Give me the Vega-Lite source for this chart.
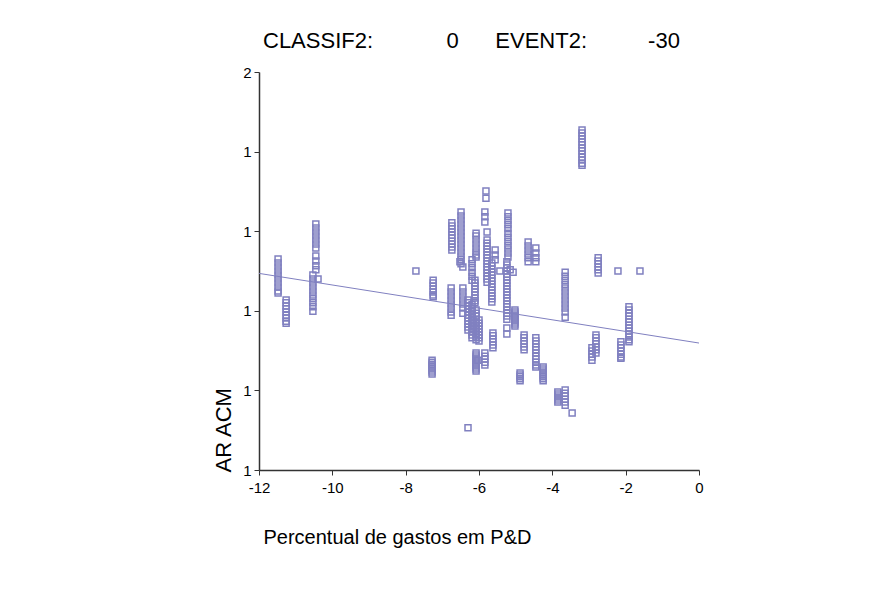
{
  "$schema": "https://vega.github.io/schema/vega-lite/v6.json",
  "width": 440,
  "height": 398,
  "autosize": {"type": "none"},
  "padding": {"left": 259, "top": 72, "right": 182, "bottom": 125},
  "background": "white",
  "title": {
    "text": "CLASSIF2:\u00a0\u00a0\u00a0\u00a0\u00a0\u00a0\u00a0\u00a0\u00a0\u00a0\u00a0\u00a00\u00a0\u00a0\u00a0\u00a0\u00a0\u00a0EVENT2:\u00a0\u00a0\u00a0\u00a0\u00a0\u00a0\u00a0\u00a0\u00a0\u00a0-30",
    "anchor": "start",
    "frame": "group",
    "dx": 4,
    "dy": 27,
    "offset": 22,
    "baseline": "alphabetic",
    "font": "Liberation Sans",
    "fontSize": 22,
    "fontWeight": "normal",
    "color": "#000000"
  },
  "config": {
    "view": {"stroke": null},
    "axis": {
      "grid": false,
      "domainColor": "#333333",
      "domainWidth": 1.5,
      "tickColor": "#333333",
      "tickWidth": 1,
      "tickSize": 5,
      "labelFont": "Liberation Sans",
      "labelFontSize": 15,
      "labelColor": "#000000",
      "labelFlush": false,
      "titleFont": "Liberation Sans",
      "titleFontSize": 20,
      "titleFontWeight": "normal",
      "titleColor": "#000000"
    }
  },
  "layer": [
    {
      "data": {
        "values": [
          {"pd": -11.48, "ar": 1.530}, {"pd": -11.48, "ar": 1.520}, {"pd": -11.48, "ar": 1.510}, {"pd": -11.48, "ar": 1.500}, {"pd": -11.48, "ar": 1.490}, {"pd": -11.48, "ar": 1.480}, {"pd": -11.48, "ar": 1.470}, {"pd": -11.48, "ar": 1.460}, {"pd": -11.48, "ar": 1.450}, {"pd": -11.48, "ar": 1.445},
          {"pd": -11.26, "ar": 1.427}, {"pd": -11.26, "ar": 1.420}, {"pd": -11.26, "ar": 1.412}, {"pd": -11.26, "ar": 1.405}, {"pd": -11.26, "ar": 1.397}, {"pd": -11.26, "ar": 1.389}, {"pd": -11.26, "ar": 1.382}, {"pd": -11.26, "ar": 1.374}, {"pd": -11.26, "ar": 1.369},
          {"pd": -10.45, "ar": 1.618}, {"pd": -10.45, "ar": 1.608}, {"pd": -10.45, "ar": 1.598}, {"pd": -10.45, "ar": 1.588}, {"pd": -10.45, "ar": 1.578}, {"pd": -10.45, "ar": 1.568}, {"pd": -10.45, "ar": 1.558}, {"pd": -10.45, "ar": 1.538}, {"pd": -10.45, "ar": 1.525}, {"pd": -10.45, "ar": 1.513}, {"pd": -10.45, "ar": 1.503},
          {"pd": -10.53, "ar": 1.490}, {"pd": -10.53, "ar": 1.480}, {"pd": -10.53, "ar": 1.470}, {"pd": -10.53, "ar": 1.460}, {"pd": -10.53, "ar": 1.450}, {"pd": -10.53, "ar": 1.440}, {"pd": -10.53, "ar": 1.430}, {"pd": -10.53, "ar": 1.420}, {"pd": -10.53, "ar": 1.410}, {"pd": -10.53, "ar": 1.399},
          {"pd": -10.39, "ar": 1.480},
          {"pd": -7.72, "ar": 1.500},
          {"pd": -7.25, "ar": 1.477}, {"pd": -7.25, "ar": 1.470}, {"pd": -7.25, "ar": 1.462}, {"pd": -7.25, "ar": 1.455}, {"pd": -7.25, "ar": 1.447}, {"pd": -7.25, "ar": 1.440}, {"pd": -7.25, "ar": 1.435},
          {"pd": -7.28, "ar": 1.276}, {"pd": -7.28, "ar": 1.271}, {"pd": -7.28, "ar": 1.266}, {"pd": -7.28, "ar": 1.261}, {"pd": -7.28, "ar": 1.256}, {"pd": -7.28, "ar": 1.251}, {"pd": -7.28, "ar": 1.246}, {"pd": -7.28, "ar": 1.241},
          {"pd": -6.74, "ar": 1.621}, {"pd": -6.74, "ar": 1.613}, {"pd": -6.74, "ar": 1.606}, {"pd": -6.74, "ar": 1.598}, {"pd": -6.74, "ar": 1.590}, {"pd": -6.74, "ar": 1.583}, {"pd": -6.74, "ar": 1.575}, {"pd": -6.74, "ar": 1.568}, {"pd": -6.74, "ar": 1.560}, {"pd": -6.74, "ar": 1.553},
          {"pd": -6.76, "ar": 1.457}, {"pd": -6.76, "ar": 1.447}, {"pd": -6.76, "ar": 1.437}, {"pd": -6.76, "ar": 1.427}, {"pd": -6.76, "ar": 1.417}, {"pd": -6.76, "ar": 1.407}, {"pd": -6.76, "ar": 1.397}, {"pd": -6.76, "ar": 1.389},
          {"pd": -6.49, "ar": 1.648}, {"pd": -6.49, "ar": 1.638}, {"pd": -6.49, "ar": 1.628}, {"pd": -6.49, "ar": 1.618}, {"pd": -6.49, "ar": 1.608}, {"pd": -6.49, "ar": 1.598}, {"pd": -6.49, "ar": 1.588}, {"pd": -6.49, "ar": 1.578}, {"pd": -6.49, "ar": 1.568}, {"pd": -6.49, "ar": 1.558}, {"pd": -6.49, "ar": 1.548}, {"pd": -6.49, "ar": 1.538}, {"pd": -6.49, "ar": 1.528}, {"pd": -6.49, "ar": 1.518},
          {"pd": -6.44, "ar": 1.510}, {"pd": -6.44, "ar": 1.457}, {"pd": -6.44, "ar": 1.447}, {"pd": -6.44, "ar": 1.437}, {"pd": -6.44, "ar": 1.427}, {"pd": -6.44, "ar": 1.417}, {"pd": -6.44, "ar": 1.407}, {"pd": -6.44, "ar": 1.394},
          {"pd": -6.52, "ar": 1.523},
          {"pd": -6.30, "ar": 1.106}, {"pd": -6.30, "ar": 1.427}, {"pd": -6.30, "ar": 1.420}, {"pd": -6.30, "ar": 1.412}, {"pd": -6.30, "ar": 1.405}, {"pd": -6.30, "ar": 1.397}, {"pd": -6.30, "ar": 1.389}, {"pd": -6.30, "ar": 1.382}, {"pd": -6.30, "ar": 1.374}, {"pd": -6.30, "ar": 1.367}, {"pd": -6.30, "ar": 1.359}, {"pd": -6.30, "ar": 1.352},
          {"pd": -6.19, "ar": 1.528}, {"pd": -6.19, "ar": 1.518}, {"pd": -6.19, "ar": 1.508}, {"pd": -6.19, "ar": 1.497}, {"pd": -6.19, "ar": 1.487}, {"pd": -6.19, "ar": 1.477}, {"pd": -6.19, "ar": 1.415}, {"pd": -6.19, "ar": 1.407}, {"pd": -6.19, "ar": 1.399}, {"pd": -6.19, "ar": 1.392}, {"pd": -6.19, "ar": 1.384}, {"pd": -6.19, "ar": 1.377}, {"pd": -6.19, "ar": 1.369}, {"pd": -6.19, "ar": 1.362}, {"pd": -6.19, "ar": 1.354}, {"pd": -6.19, "ar": 1.347}, {"pd": -6.19, "ar": 1.339}, {"pd": -6.19, "ar": 1.332},
          {"pd": -6.08, "ar": 1.595}, {"pd": -6.08, "ar": 1.588}, {"pd": -6.08, "ar": 1.578}, {"pd": -6.08, "ar": 1.568}, {"pd": -6.08, "ar": 1.558}, {"pd": -6.08, "ar": 1.548}, {"pd": -6.08, "ar": 1.540}, {"pd": -6.08, "ar": 1.535},
          {"pd": -6.08, "ar": 1.402}, {"pd": -6.08, "ar": 1.394}, {"pd": -6.08, "ar": 1.387}, {"pd": -6.08, "ar": 1.379}, {"pd": -6.08, "ar": 1.372}, {"pd": -6.08, "ar": 1.364}, {"pd": -6.08, "ar": 1.357}, {"pd": -6.08, "ar": 1.349}, {"pd": -6.08, "ar": 1.342}, {"pd": -6.08, "ar": 1.334}, {"pd": -6.08, "ar": 1.327},
          {"pd": -6.08, "ar": 1.294}, {"pd": -6.08, "ar": 1.289}, {"pd": -6.08, "ar": 1.284}, {"pd": -6.08, "ar": 1.279}, {"pd": -6.08, "ar": 1.274}, {"pd": -6.08, "ar": 1.269}, {"pd": -6.08, "ar": 1.264}, {"pd": -6.08, "ar": 1.259}, {"pd": -6.08, "ar": 1.254}, {"pd": -6.08, "ar": 1.249},
          {"pd": -6.11, "ar": 1.477}, {"pd": -6.11, "ar": 1.470}, {"pd": -6.11, "ar": 1.462}, {"pd": -6.11, "ar": 1.455}, {"pd": -6.11, "ar": 1.447}, {"pd": -6.11, "ar": 1.440}, {"pd": -6.11, "ar": 1.432}, {"pd": -6.11, "ar": 1.425}, {"pd": -6.11, "ar": 1.420},
          {"pd": -6.00, "ar": 1.377}, {"pd": -6.00, "ar": 1.369}, {"pd": -6.00, "ar": 1.362}, {"pd": -6.00, "ar": 1.354}, {"pd": -6.00, "ar": 1.347}, {"pd": -6.00, "ar": 1.339}, {"pd": -6.00, "ar": 1.332}, {"pd": -6.00, "ar": 1.324},
          {"pd": -6.03, "ar": 1.276},
          {"pd": -5.81, "ar": 1.701}, {"pd": -5.81, "ar": 1.683},
          {"pd": -5.84, "ar": 1.648}, {"pd": -5.84, "ar": 1.636}, {"pd": -5.84, "ar": 1.623}, {"pd": -5.84, "ar": 1.294}, {"pd": -5.84, "ar": 1.286}, {"pd": -5.84, "ar": 1.279}, {"pd": -5.84, "ar": 1.271}, {"pd": -5.84, "ar": 1.264},
          {"pd": -5.78, "ar": 1.598}, {"pd": -5.78, "ar": 1.578}, {"pd": -5.78, "ar": 1.570}, {"pd": -5.78, "ar": 1.563}, {"pd": -5.78, "ar": 1.555}, {"pd": -5.78, "ar": 1.548}, {"pd": -5.78, "ar": 1.540}, {"pd": -5.78, "ar": 1.533}, {"pd": -5.78, "ar": 1.525}, {"pd": -5.78, "ar": 1.518}, {"pd": -5.78, "ar": 1.510}, {"pd": -5.78, "ar": 1.503}, {"pd": -5.78, "ar": 1.495}, {"pd": -5.78, "ar": 1.487}, {"pd": -5.78, "ar": 1.480}, {"pd": -5.78, "ar": 1.472},
          {"pd": -5.65, "ar": 1.520}, {"pd": -5.65, "ar": 1.513}, {"pd": -5.65, "ar": 1.505}, {"pd": -5.65, "ar": 1.497}, {"pd": -5.65, "ar": 1.490}, {"pd": -5.65, "ar": 1.482}, {"pd": -5.65, "ar": 1.475}, {"pd": -5.65, "ar": 1.467}, {"pd": -5.65, "ar": 1.460}, {"pd": -5.65, "ar": 1.452}, {"pd": -5.65, "ar": 1.445}, {"pd": -5.65, "ar": 1.437}, {"pd": -5.65, "ar": 1.430}, {"pd": -5.65, "ar": 1.422},
          {"pd": -5.56, "ar": 1.553}, {"pd": -5.56, "ar": 1.540}, {"pd": -5.56, "ar": 1.528},
          {"pd": -5.62, "ar": 1.344}, {"pd": -5.62, "ar": 1.337}, {"pd": -5.62, "ar": 1.329}, {"pd": -5.62, "ar": 1.322}, {"pd": -5.62, "ar": 1.314}, {"pd": -5.62, "ar": 1.307},
          {"pd": -5.43, "ar": 1.500},
          {"pd": -5.21, "ar": 1.646}, {"pd": -5.21, "ar": 1.636}, {"pd": -5.21, "ar": 1.626}, {"pd": -5.21, "ar": 1.616}, {"pd": -5.21, "ar": 1.606}, {"pd": -5.21, "ar": 1.595}, {"pd": -5.21, "ar": 1.585}, {"pd": -5.21, "ar": 1.575}, {"pd": -5.21, "ar": 1.565}, {"pd": -5.21, "ar": 1.555}, {"pd": -5.21, "ar": 1.545}, {"pd": -5.21, "ar": 1.535},
          {"pd": -5.24, "ar": 1.523}, {"pd": -5.24, "ar": 1.515}, {"pd": -5.24, "ar": 1.508}, {"pd": -5.24, "ar": 1.500}, {"pd": -5.24, "ar": 1.492}, {"pd": -5.24, "ar": 1.485}, {"pd": -5.24, "ar": 1.477}, {"pd": -5.24, "ar": 1.470}, {"pd": -5.24, "ar": 1.462}, {"pd": -5.24, "ar": 1.455}, {"pd": -5.24, "ar": 1.447}, {"pd": -5.24, "ar": 1.440}, {"pd": -5.24, "ar": 1.432}, {"pd": -5.24, "ar": 1.425}, {"pd": -5.24, "ar": 1.417}, {"pd": -5.24, "ar": 1.410}, {"pd": -5.24, "ar": 1.402}, {"pd": -5.24, "ar": 1.394}, {"pd": -5.24, "ar": 1.387}, {"pd": -5.24, "ar": 1.379}, {"pd": -5.24, "ar": 1.357}, {"pd": -5.24, "ar": 1.342},
          {"pd": -5.15, "ar": 1.503}, {"pd": -5.07, "ar": 1.497},
          {"pd": -5.02, "ar": 1.402}, {"pd": -5.02, "ar": 1.397}, {"pd": -5.02, "ar": 1.392}, {"pd": -5.02, "ar": 1.387}, {"pd": -5.02, "ar": 1.382}, {"pd": -5.02, "ar": 1.377}, {"pd": -5.02, "ar": 1.372}, {"pd": -5.02, "ar": 1.367}, {"pd": -5.02, "ar": 1.362},
          {"pd": -4.66, "ar": 1.573}, {"pd": -4.66, "ar": 1.563}, {"pd": -4.66, "ar": 1.553}, {"pd": -4.66, "ar": 1.543}, {"pd": -4.66, "ar": 1.533}, {"pd": -4.66, "ar": 1.523},
          {"pd": -4.45, "ar": 1.558}, {"pd": -4.45, "ar": 1.545}, {"pd": -4.45, "ar": 1.533}, {"pd": -4.45, "ar": 1.523},
          {"pd": -4.45, "ar": 1.332}, {"pd": -4.45, "ar": 1.324}, {"pd": -4.45, "ar": 1.317}, {"pd": -4.45, "ar": 1.309}, {"pd": -4.45, "ar": 1.302}, {"pd": -4.45, "ar": 1.294}, {"pd": -4.45, "ar": 1.286}, {"pd": -4.45, "ar": 1.279}, {"pd": -4.45, "ar": 1.271}, {"pd": -4.45, "ar": 1.264}, {"pd": -4.45, "ar": 1.259},
          {"pd": -4.77, "ar": 1.339}, {"pd": -4.77, "ar": 1.332}, {"pd": -4.77, "ar": 1.324}, {"pd": -4.77, "ar": 1.317}, {"pd": -4.77, "ar": 1.309}, {"pd": -4.77, "ar": 1.302},
          {"pd": -4.25, "ar": 1.259}, {"pd": -4.25, "ar": 1.254}, {"pd": -4.25, "ar": 1.249}, {"pd": -4.25, "ar": 1.244}, {"pd": -4.25, "ar": 1.239}, {"pd": -4.25, "ar": 1.234}, {"pd": -4.25, "ar": 1.229}, {"pd": -4.25, "ar": 1.224},
          {"pd": -4.88, "ar": 1.244}, {"pd": -4.88, "ar": 1.239}, {"pd": -4.88, "ar": 1.234}, {"pd": -4.88, "ar": 1.229}, {"pd": -4.88, "ar": 1.224},
          {"pd": -3.65, "ar": 1.497}, {"pd": -3.65, "ar": 1.487}, {"pd": -3.65, "ar": 1.477}, {"pd": -3.65, "ar": 1.467}, {"pd": -3.65, "ar": 1.457}, {"pd": -3.65, "ar": 1.447}, {"pd": -3.65, "ar": 1.437}, {"pd": -3.65, "ar": 1.427}, {"pd": -3.65, "ar": 1.417}, {"pd": -3.65, "ar": 1.407}, {"pd": -3.65, "ar": 1.397}, {"pd": -3.65, "ar": 1.384},
          {"pd": -3.65, "ar": 1.201}, {"pd": -3.65, "ar": 1.193}, {"pd": -3.65, "ar": 1.186}, {"pd": -3.65, "ar": 1.178}, {"pd": -3.65, "ar": 1.171}, {"pd": -3.65, "ar": 1.163},
          {"pd": -3.85, "ar": 1.196}, {"pd": -3.85, "ar": 1.191}, {"pd": -3.85, "ar": 1.186}, {"pd": -3.85, "ar": 1.181}, {"pd": -3.85, "ar": 1.176}, {"pd": -3.85, "ar": 1.171},
          {"pd": -3.46, "ar": 1.143},
          {"pd": -3.19, "ar": 1.854}, {"pd": -3.19, "ar": 1.847}, {"pd": -3.19, "ar": 1.839}, {"pd": -3.19, "ar": 1.832}, {"pd": -3.19, "ar": 1.824}, {"pd": -3.19, "ar": 1.817}, {"pd": -3.19, "ar": 1.809}, {"pd": -3.19, "ar": 1.802}, {"pd": -3.19, "ar": 1.794}, {"pd": -3.19, "ar": 1.786}, {"pd": -3.19, "ar": 1.779}, {"pd": -3.19, "ar": 1.771}, {"pd": -3.19, "ar": 1.766},
          {"pd": -2.75, "ar": 1.533}, {"pd": -2.75, "ar": 1.525}, {"pd": -2.75, "ar": 1.518}, {"pd": -2.75, "ar": 1.510}, {"pd": -2.75, "ar": 1.503}, {"pd": -2.75, "ar": 1.495},
          {"pd": -2.21, "ar": 1.500}, {"pd": -1.61, "ar": 1.500},
          {"pd": -2.81, "ar": 1.339}, {"pd": -2.81, "ar": 1.332}, {"pd": -2.81, "ar": 1.324}, {"pd": -2.81, "ar": 1.317}, {"pd": -2.81, "ar": 1.309}, {"pd": -2.81, "ar": 1.302}, {"pd": -2.81, "ar": 1.294},
          {"pd": -2.92, "ar": 1.307}, {"pd": -2.92, "ar": 1.299}, {"pd": -2.92, "ar": 1.291}, {"pd": -2.92, "ar": 1.284}, {"pd": -2.92, "ar": 1.276},
          {"pd": -2.13, "ar": 1.322}, {"pd": -2.13, "ar": 1.314}, {"pd": -2.13, "ar": 1.307}, {"pd": -2.13, "ar": 1.299}, {"pd": -2.13, "ar": 1.291}, {"pd": -2.13, "ar": 1.284}, {"pd": -2.13, "ar": 1.281},
          {"pd": -1.91, "ar": 1.410}, {"pd": -1.91, "ar": 1.402}, {"pd": -1.91, "ar": 1.394}, {"pd": -1.91, "ar": 1.387}, {"pd": -1.91, "ar": 1.379}, {"pd": -1.91, "ar": 1.372}, {"pd": -1.91, "ar": 1.364}, {"pd": -1.91, "ar": 1.357}, {"pd": -1.91, "ar": 1.349}, {"pd": -1.91, "ar": 1.342}, {"pd": -1.91, "ar": 1.334}, {"pd": -1.91, "ar": 1.327}, {"pd": -1.91, "ar": 1.322}
        ]
      },
      "mark": {"type": "point", "shape": "square", "filled": false, "size": 36, "strokeWidth": 1.5, "color": "#8080c0", "opacity": 1},
      "encoding": {
        "x": {
          "field": "pd", "type": "quantitative",
          "scale": {"domain": [-12, 0], "nice": false, "zero": false},
          "axis": {
            "values": [-12, -10, -8, -6, -4, -2, 0],
            "labelExpr": "'' + datum.value",
            "labelFlush": false,
            "labelFontSize": 15,
            "labelPadding": 5,
            "title": "Percentual de gastos em P&D",
            "titleAnchor": "start",
            "titleAlign": "left",
            "titleBaseline": "alphabetic",
            "titleFontSize": 20,
            "titleX": 4,
            "titleY": 73
          }
        },
        "y": {
          "field": "ar", "type": "quantitative",
          "scale": {"domain": [1, 2], "nice": false, "zero": false},
          "axis": {
            "values": [1, 1.2, 1.4, 1.6, 1.8, 2],
            "labelExpr": "datum.value > 1.9 ? '2' : '1'",
            "labelFlush": false,
            "labelFontSize": 15,
            "labelPadding": 3,
            "title": "AR ACM",
            "titleFontSize": 22,
            "titleAngle": 270,
            "titleAlign": "left",
            "titleBaseline": "alphabetic",
            "titleX": -29,
            "titleY": 400
          }
        }
      }
    },
    {
      "data": {"values": [{"pd": -12, "ar": 1.494}, {"pd": 0, "ar": 1.319}]},
      "mark": {"type": "line", "color": "#8080c0", "strokeWidth": 1},
      "encoding": {
        "x": {"field": "pd", "type": "quantitative"},
        "y": {"field": "ar", "type": "quantitative"}
      }
    }
  ]
}
